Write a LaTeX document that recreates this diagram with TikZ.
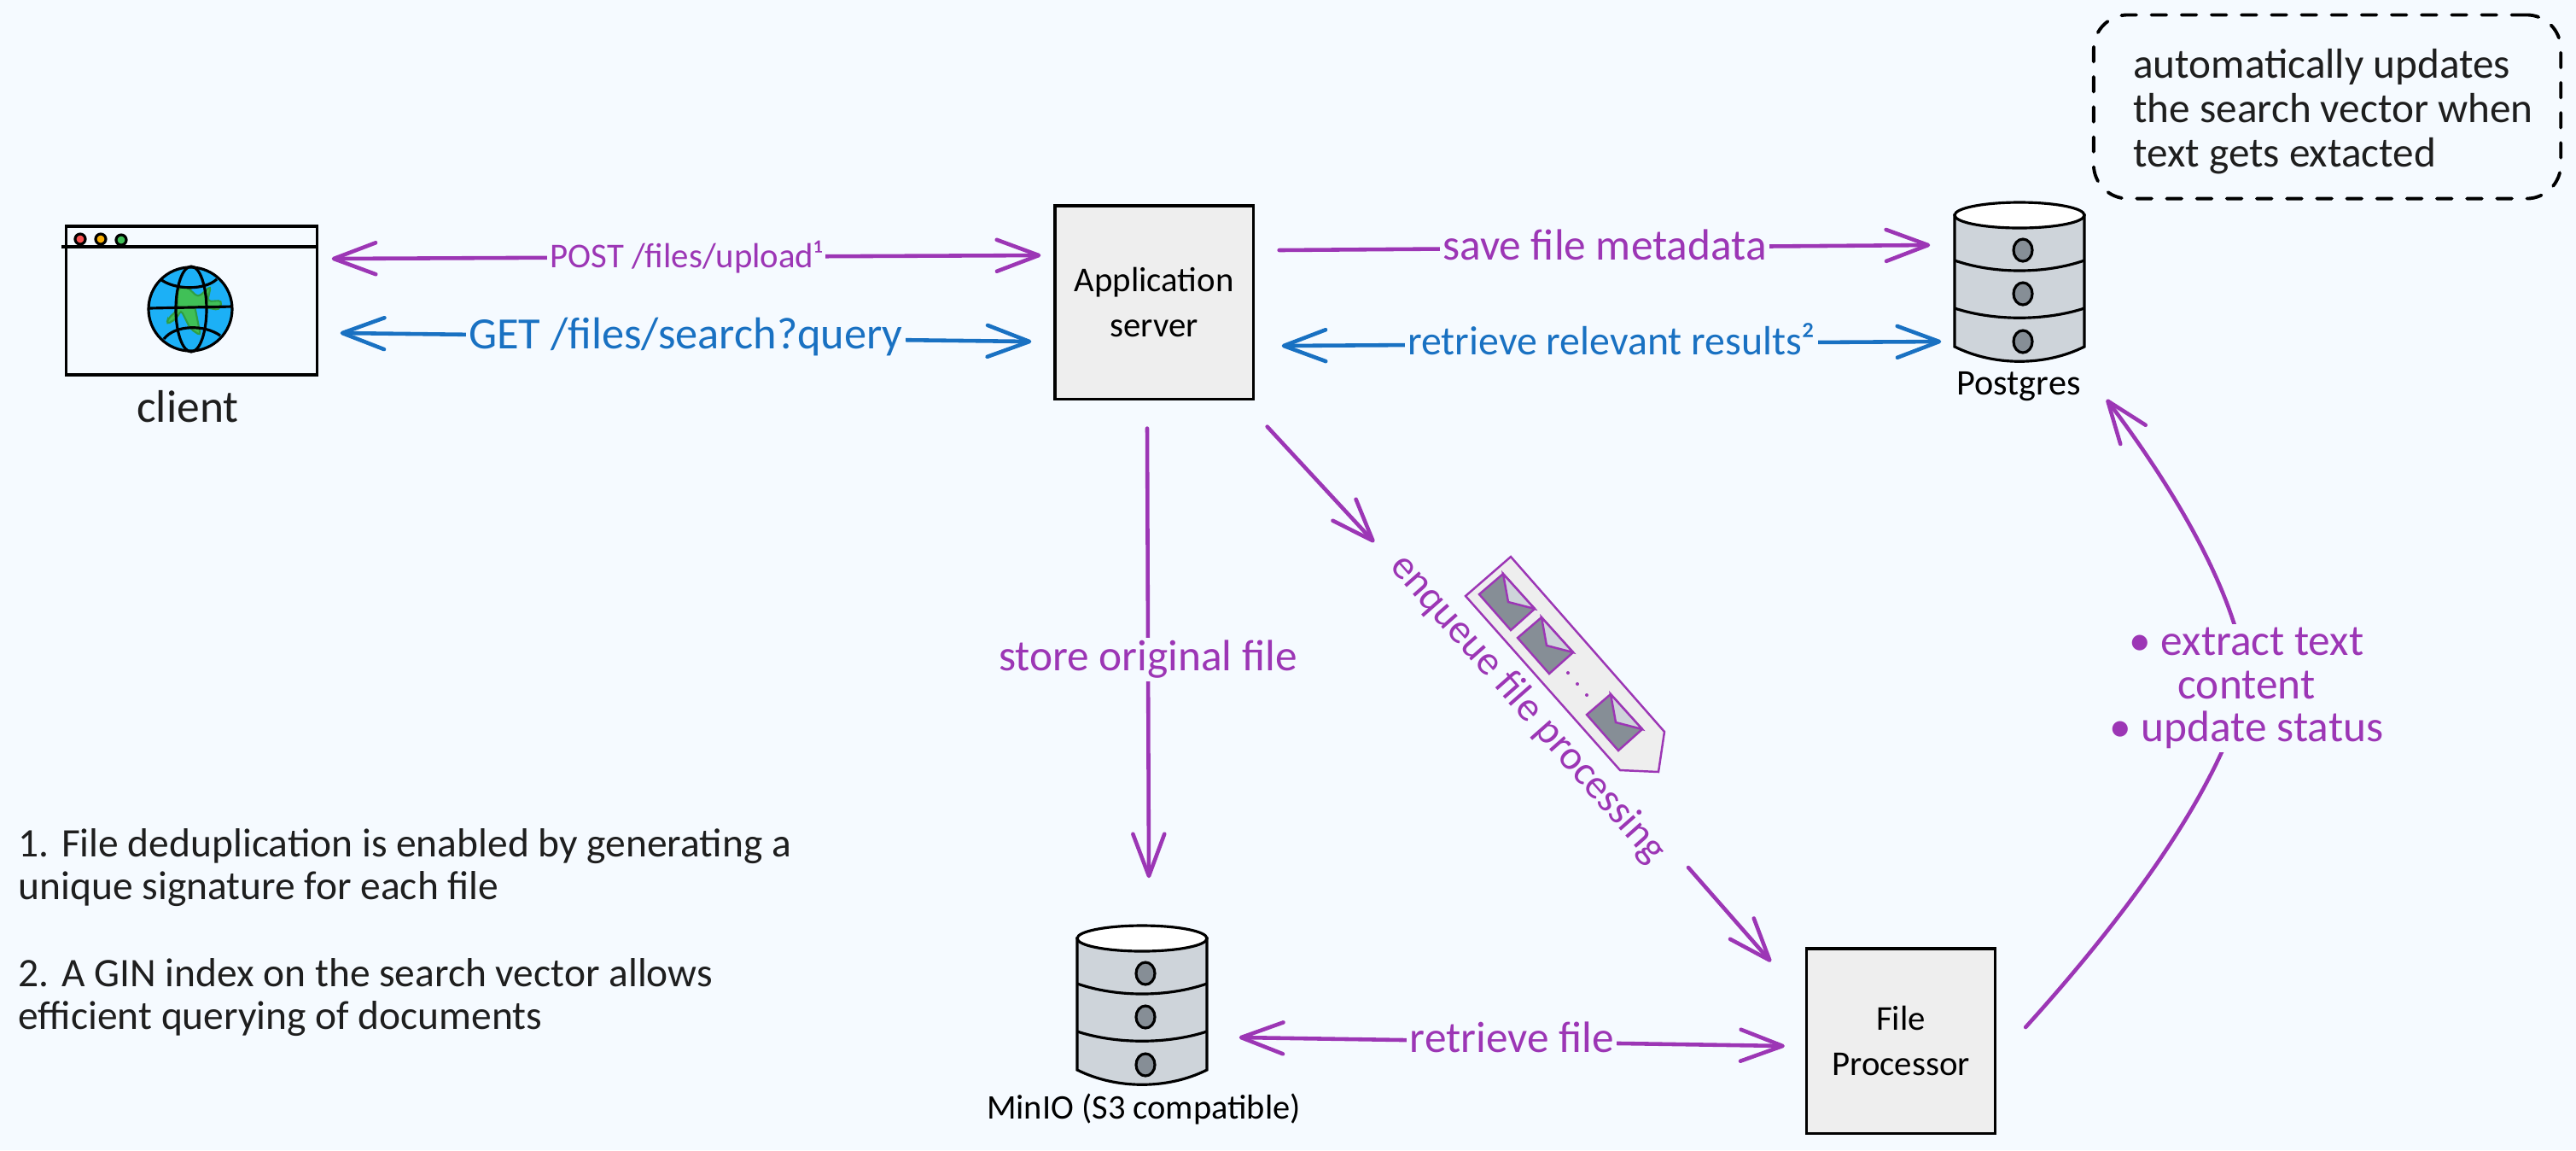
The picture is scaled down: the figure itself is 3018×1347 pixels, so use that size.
\documentclass[tikz,border=0pt]{standalone}
\usepackage{fontspec}
\setmainfont{Carlito}
\usetikzlibrary{arrows.meta}
\definecolor{bgcol}{HTML}{F5FAFF}
\definecolor{inkcol}{HTML}{1E1E1E}
\definecolor{flowpurple}{HTML}{9C36B5}
\definecolor{flowblue}{HTML}{1971C2}
\definecolor{boxgray}{HTML}{EEEEEE}
\definecolor{diskgray}{HTML}{CED4DA}
\definecolor{dotgray}{HTML}{868E96}
\definecolor{seablue}{HTML}{1CB0F6}
\definecolor{landgreen}{HTML}{40C057}
\definecolor{landedge}{HTML}{2F9E44}
\definecolor{dotred}{HTML}{FA5252}
\definecolor{dotorange}{HTML}{FAB005}
\newcommand{\hand}[2]{\fontsize{#1}{#2}\selectfont}
\tikzset{
  >={Straight Barb[round,length=14pt,width=10.5pt]},
  outline/.style={draw=black,line width=0.9pt},
  serverbox/.style={outline,fill=boxgray,inner sep=0pt,align=center,text=black,font=\hand{11.6}{15}},
  flow/.style={line width=1.3pt,line cap=round},
  flowtext/.style={fill=bgcol,inner sep=1pt,font=\hand{14.6}{15}},
  purpleflow/.style={flow,draw=flowpurple,text=flowpurple},
  blueflow/.style={flow,draw=flowblue,text=flowblue},
  notetext/.style={text=inkcol,align=left,inner sep=0pt,font=\hand{13.5}{14.4}},
}
% #1: node name, #2: x-coordinate, #3: y-coordinate
\newcommand{\diskstack}[3]{
  \node[minimum width=1.52cm,minimum height=1.88cm,inner sep=0pt] (#1) at (#2,#3) {};
  \begin{scope}[shift={(#2,#3)}]
    \draw[outline,fill=diskgray] (-76,-77) -- (-76,77) .. controls (-30,100) and (30,100) .. (76,77) -- (76,-77) -- cycle;
    \draw[outline,fill=white] (0,-77) ellipse [x radius=76,y radius=15];
    \draw[outline] (-76,-24) .. controls (-30,-8) and (30,-8) .. (76,-24);
    \draw[outline] (-76,32) .. controls (-30,47) and (30,47) .. (76,32);
    \foreach \y in {-36,15,71}
    {
        \draw[outline,fill=dotgray] (4,\y) ellipse [x radius=11,y radius=13];
    }
  \end{scope}
}
% #1: x-coordinate of top corner, #2: y-coordinate of top corner
\newcommand{\envelope}[2]{
  \draw[flowpurple,line width=0.7pt,fill=dotgray] (#1,#2) -- ++(37,41) -- ++(-28,25) -- ++(-37,-42) -- cycle;
  \draw[flowpurple,line width=0.7pt,fill=diskgray] (#1,#2) -- ++(6,33) -- ++(31,8) -- cycle;
}
\begin{document}
\begin{tikzpicture}[x=0.01cm,y=-0.01cm]

% Background, fixes the page size
\fill[bgcol] (0,0) rectangle (3018,1347);

% Client window
\node[outline,minimum width=2.93cm,minimum height=1.74cm,inner sep=0pt] (client) at (224.5,352) {};
\draw[outline] (72,289) -- (373,289);
\draw[outline,fill=dotred] (94,280) circle (6);
\draw[outline,fill=dotorange] (118,280) circle (6);
\draw[outline,fill=landgreen] (142,281) circle (6);
\node[text=inkcol,font=\hand{15.2}{18}] (clientlabel) at (220,476) {client};

% Globe
\fill[seablue] (223,362) circle (49);
\draw[landedge,fill=landgreen,line width=0.6pt,rounded corners=1.2pt] (208,338) -- (218,335) -- (232,348) -- (247,335) -- (243,353) -- (260,352) -- (257,363) -- (228,358) -- (235,393) -- (223,385) -- (212,363) -- (207,373) -- (195,380) -- (197,373) -- (208,363) -- cycle;
\draw[outline] (223,362) circle (49);
\draw[outline] (224,362) ellipse [x radius=18,y radius=50];
\draw[outline] (174,361) -- (272,359);
\draw[outline] (188,327) .. controls (205,340) and (240,340) .. (254,327);
\draw[outline] (192,397) .. controls (205,380) and (240,380) .. (258,393);

% Servers
\node[serverbox,minimum width=2.32cm,minimum height=2.26cm] (app) at (1352,354) {Application\\server};
\node[serverbox,minimum width=2.21cm,minimum height=2.16cm] (proc) at (2227,1219) {File\\Processor};

% Databases
\diskstack{postgres}{2366}{329}
\diskstack{minio}{1338}{1176}
\node[text=black,font=\hand{12}{14}] (pglabel) at (2365,453) {Postgres};
\node[text=black,font=\hand{11.5}{14}] (miniolabel) at (1340,1299) {MinIO (S3 compatible)};

% Queue
\draw[flowpurple,line width=0.7pt,fill=boxgray] (1770,652) -- (1950,857) -- (1943,904) -- (1898,902) -- (1717,698) -- cycle;
\envelope{1761}{672}
\envelope{1806}{723}
\envelope{1887}{813}
\foreach \x/\y in {1837/788,1848/801,1859/814}
{
    \fill[flowpurple] (\x,\y) circle (2);
}

% Arrows between client and server
\draw[purpleflow,<->] ([shift={(16,-49)}]client.east) -- node[flowtext,font=\hand{11.6}{13}] (postlabel) {POST /files/upload¹} ([shift={(-15,-55)}]app.west);
\draw[blueflow,<->] ([shift={(26,38)}]client.east) -- node[flowtext,font=\hand{14.9}{17}] (getlabel) {GET /files/search?query} ([shift={(-26,46)}]app.west);

% Arrows between server and Postgres
\draw[purpleflow,->] ([shift={(29,-61)}]app.east) -- node[flowtext,yshift=1pt] (savelabel) {save file metadata} ([shift={(-28,-42)}]postgres.west);
\draw[blueflow,<->] ([shift={(32,51)}]app.east) -- node[flowtext,yshift=1.5pt,font=\hand{13.6}{15}] (resultslabel) {retrieve relevant results²} ([shift={(-15,71)}]postgres.west);

% Store original file
\draw[purpleflow,->] ([shift={(-8,33)}]app.south) -- node[flowtext,pos=0.514] (storelabel) {store original file} ([shift={(8,-53)}]minio.north);

% Enqueue, two pieces with the rotated text between
\node[text=flowpurple,rotate=-48.6,font=\hand{13.7}{15}] (enqlabel) at (1790,830) {enqueue file processing};
\draw[purpleflow,->] ([shift={(15,31)}]app.south east) -- ([shift={(-180,-195)}]enqlabel.center);
\draw[purpleflow,->] ([shift={(188,186)}]enqlabel.center) -- ([shift={(-40,17)}]proc.north west);

% Retrieve file
\draw[purpleflow,<->] ([shift={(37,39)}]minio.east) -- node[flowtext,yshift=1.5pt] (filelabel) {retrieve file} ([shift={(-24,6)}]proc.west);

% Curved arrow from processor to Postgres
\coordinate (extractmid) at (2632,800);
\draw[purpleflow,->] ([shift={(34,-16)}]proc.east) .. controls (2480,1085) and (2600,930) .. (extractmid) .. controls (2625,710) and (2560,590) .. ([shift={(102,44)}]postgres.south);
\node[flowtext,text=flowpurple,align=center,font=\hand{14.6}{14.4}] (extractlabel) at (2632,806) {• extract text\\content\\• update status};

% Dashed note
\node[draw=black,line width=1.1pt,line cap=round,dash pattern=on 5pt off 5pt,rounded corners=0.4cm,text=inkcol,align=left,inner sep=0pt,minimum width=5.47cm,minimum height=2.15cm,font=\hand{14}{14.8}] (vectornote) at (2726.5,125) {\rule{0pt}{13pt}\hspace*{4pt}automatically updates\\\hspace*{4pt}the search vector when\\\hspace*{4pt}text gets extacted};

% Notes on the left
\node[notetext,anchor=west] (footnotes) at (21,1092) {1. File deduplication is enabled by generating a\\unique signature for each file\\[14.4pt]2. A GIN index on the search vector allows\\efficient querying of documents};

\end{tikzpicture}
\end{document}
